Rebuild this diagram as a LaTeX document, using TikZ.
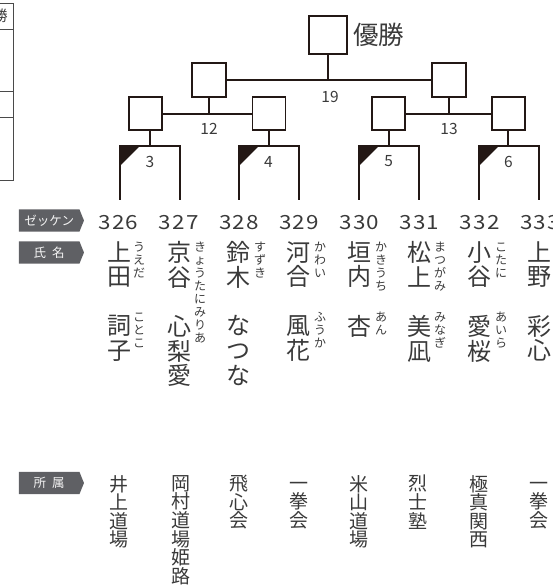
\documentclass[tikz,border=0pt]{standalone}
\usepackage{fontspec}
\setmainfont{Noto Sans CJK JP}
\newfontfamily\bibfont[FakeStretch=1.15]{Noto Sans CJK JP}
\usetikzlibrary{shapes.symbols}
\definecolor{ink}{HTML}{231815}
\definecolor{txt}{HTML}{3A3A3A}
\definecolor{tag}{HTML}{5F6064}
\definecolor{frame}{HTML}{4A4A4A}
\newcommand\vstrut{\vphantom{国}}
\begin{document}
\setlength{\lineskiplimit}{-30pt}
\begin{tikzpicture}[x=1pt,y=-1pt,
  sqbox/.style={draw=ink, fill=white, line width=1.7pt, minimum size=#1, inner sep=0pt, rectangle},
  conn/.style={draw=ink, line width=1.7pt},
  rnd/.style={font=\fontsize{15.5}{15.5}\selectfont, text=txt, inner sep=0pt},
  tagbox/.style={signal, signal to=east, signal pointer angle=136, fill=tag, minimum width=65pt, minimum height=22.4pt, inner sep=0pt, font=\fontsize{12.5}{12.5}\selectfont, text=white!92!gray},
  bib/.style={font=\bibfont\fontsize{19.5}{19.5}\selectfont, text=txt, inner sep=0pt, anchor=base},
  kanji/.style={font=\fontsize{24}{24.8}\selectfont, text=txt, inner sep=0pt, anchor=north, align=center},
  ruby/.style={font=\fontsize{12}{13}\selectfont, text=txt, inner sep=0pt, anchor=north, align=center},
  club/.style={font=\fontsize{19}{18.6}\selectfont, text=txt, inner sep=0pt, anchor=north, align=center},
]
\useasboundingbox (0,0) rectangle (553,587);

% left fragment of a table
\draw[frame, line width=1pt] (-20,3.3) -| (13.3,180) -- (-20,180);
\draw[frame, line width=1pt] (-20,29.3) -- (13.3,29.3);
\draw[frame, line width=1pt] (-20,91.7) -- (13.3,91.7);
\draw[frame, line width=1pt] (-20,117.3) -- (13.3,117.3);
\node[font=\fontsize{15}{15}\selectfont, text=txt, inner sep=0pt] (sho) at (0,16) {勝};

% bracket boxes
\node[sqbox=38pt] (top) at (328.3,35) {};
\node[font=\fontsize{25.5}{25.5}\selectfont, text=txt, inner sep=0pt, anchor=west] (win) at (353,35) {優勝};
\node[sqbox=33.4pt] (l2a) at (209,80) {};
\node[sqbox=33.4pt] (l2b) at (449,80) {};
\node[sqbox=33pt] (l3a) at (145.8,113.7) {};
\node[sqbox=33pt] (l3b) at (269,113.7) {};
\node[sqbox=33pt] (l3c) at (388.7,113.7) {};
\node[sqbox=33pt] (l3d) at (508.3,113.7) {};

\draw[conn] (l2a.east) -- (l2b.west);
\draw[conn] (top.south) -- (top.south |- l2a.east);
\draw[conn] (l3a.east) -- (l3b.west);
\draw[conn] (l2a.south) -- (l2a.south |- l3a.east);
\draw[conn] (l3c.east) -- (l3d.west);
\draw[conn] (l2b.south) -- (l2b.south |- l3c.east);

\node[rnd] (r19) at (330,96.5) {19};
\node[rnd] (r12) at (209,129) {12};
\node[rnd] (r13) at (449,129) {13};

% first-round brackets
\foreach \i/\x in {0/120,1/180,2/239,3/299,4/359,5/419,6/479,7/539}
  \coordinate (p\i) at (\x,199.5);
\coordinate (ka) at (150,146);
\coordinate (kb) at (269,146);
\coordinate (kc) at (388.7,146);
\coordinate (kd) at (508.3,146);
\draw[conn] (l3a.south -| ka) -- (ka);
\draw[conn] (l3b.south -| kb) -- (kb);
\draw[conn] (l3c.south -| kc) -- (kc);
\draw[conn] (l3d.south -| kd) -- (kd);
\draw[conn] (p0) |- (ka) -| (p1);
\draw[conn] (p2) |- (kb) -| (p3);
\draw[conn] (p4) |- (kc) -| (p5);
\draw[conn] (p6) |- (kd) -| (p7);
\foreach \c/\p in {ka/p0,kb/p2,kc/p4,kd/p6}
  \fill[ink] (\p |- \c) ++(-0.85,-0.85) -- ++(21.7,0) -- ++(-21.7,21.5) -- cycle;
\node[rnd] (r3) at (150,161.5) {3};
\node[rnd] (r4) at (268.5,161.5) {4};
\node[rnd] (r5) at (388.7,161.5) {5};
\node[rnd] (r6) at (508.3,161.5) {6};

% row labels
\node[tagbox] (tagA) at (49.2,220.5) {ゼッケン};
\node[tagbox] (tagB) at (49.2,252.5) {氏\hspace{6pt}名};
\node[tagbox] (tagC) at (49.2,483) {所\hspace{6pt}属};

% bib numbers
\foreach \a/\b/\c/\i in {3/2/6/0,3/2/7/1,3/2/8/2,3/2/9/3,3/3/0/4,3/3/1/5,3/3/2/6,3/3/3/7}
  \node[bib] (bib\i) at (118.5+60.2*\i,229) {\a\kern1.2pt\b\kern1.2pt\c};

% names
\node[kanji] (sn0) at (119,241) {\vstrut 上\\田};
\node[ruby]  (sr0) at (139,241.5) {\vstrut う\\え\\だ};
\node[kanji] (gn0) at (119,315) {\vstrut 詞\\子};
\node[ruby]  (gr0) at (139,312) {\vstrut こ\\と\\こ};

\node[kanji] (sn1) at (179,241) {\vstrut 京\\谷};
\node[ruby]  (sr1) at (200,241.5) {\vstrut き\\ょ\\う\\た\\に\\み\\り\\あ};
\node[kanji] (gn1) at (179,315) {\vstrut 心\\梨\\愛};

\node[kanji] (sn2) at (238,241) {\vstrut 鈴\\木};
\node[ruby]  (sr2) at (260,241.5) {\vstrut す\\ず\\き};
\node[kanji] (gn2) at (238,315) {\vstrut な\\つ\\な};

\node[kanji] (sn3) at (298,241) {\vstrut 河\\合};
\node[ruby]  (sr3) at (320,241.5) {\vstrut か\\わ\\い};
\node[kanji] (gn3) at (298,315) {\vstrut 風\\花};
\node[ruby]  (gr3) at (320,312) {\vstrut ふ\\う\\か};

\node[kanji] (sn4) at (359,241) {\vstrut 垣\\内};
\node[ruby]  (sr4) at (381,241.5) {\vstrut か\\き\\う\\ち};
\node[kanji] (gn4) at (359,315) {\vstrut 杏};
\node[ruby]  (gr4) at (381,312) {\vstrut あ\\ん};

\node[kanji] (sn5) at (419,241) {\vstrut 松\\上};
\node[ruby]  (sr5) at (440,241.5) {\vstrut ま\\つ\\が\\み};
\node[kanji] (gn5) at (419,315) {\vstrut 美\\凪};
\node[ruby]  (gr5) at (440,312) {\vstrut み\\な\\ぎ};

\node[kanji] (sn6) at (479,241) {\vstrut 小\\谷};
\node[ruby]  (sr6) at (501,241.5) {\vstrut こ\\た\\に};
\node[kanji] (gn6) at (479,315) {\vstrut 愛\\桜};
\node[ruby]  (gr6) at (501,312) {\vstrut あ\\い\\ら};

\node[kanji] (sn7) at (539,241) {\vstrut 上\\野};
\node[kanji] (gn7) at (539,315) {\vstrut 彩\\心};

% affiliations
\node[club] (cl0) at (119,475) {\vstrut 井\\上\\道\\場};
\node[club] (cl1) at (180.5,475) {\vstrut 岡\\村\\道\\場\\姫\\路};
\node[club] (cl2) at (239,475) {\vstrut 飛\\心\\会};
\node[club] (cl3) at (299,475) {\vstrut 一\\拳\\会};
\node[club] (cl4) at (359,475) {\vstrut 米\\山\\道\\場};
\node[club] (cl5) at (418,475) {\vstrut 烈\\士\\塾};
\node[club] (cl6) at (479,475) {\vstrut 極\\真\\関\\西};
\node[club] (cl7) at (539,475) {\vstrut 一\\拳\\会};
\end{tikzpicture}
\end{document}
